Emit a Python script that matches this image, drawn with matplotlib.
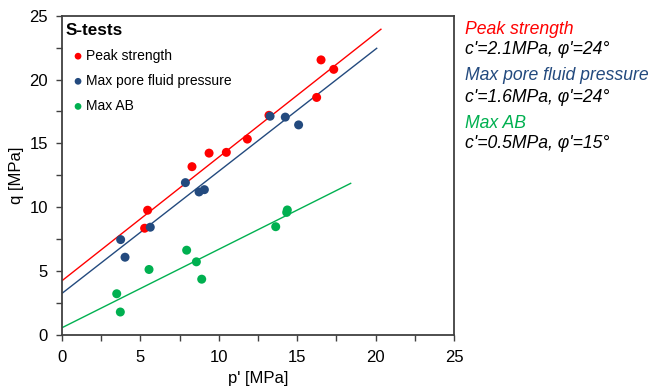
import matplotlib
matplotlib.use("Agg")
import matplotlib.pyplot as plt
import numpy as np
from matplotlib.ticker import MultipleLocator

plt.rcParams['font.family'] = ['Liberation Sans', 'DejaVu Sans']

# Data (p', q) in MPa
peak_p = [5.27, 5.46, 8.29, 9.38, 10.48, 11.82, 13.2, 16.24, 16.52, 17.33]
peak_q = [8.36, 9.77, 13.18, 14.24, 14.3, 15.34, 17.2, 18.6, 21.54, 20.8]

pore_p = [3.74, 4.02, 5.63, 7.87, 8.74, 9.08, 13.27, 14.24, 15.09]
pore_q = [7.47, 6.09, 8.44, 11.93, 11.2, 11.38, 17.13, 17.06, 16.45]

ab_p = [3.49, 3.72, 5.55, 7.95, 8.57, 8.91, 13.63, 14.37, 14.33]
ab_q = [3.23, 1.80, 5.13, 6.64, 5.73, 4.37, 8.48, 9.79, 9.6]

# Fitted failure lines: intercept, slope, p range end
fit_names = ["Peak strength", "Max pore fluid pressure", "Max AB"]
fit_intercept = [4.25, 3.26, 0.57]
fit_slope = [0.968, 0.956, 0.614]
fit_pmax = [20.34, 20.07, 18.41]
fit_params = ["c'=2.1MPa, φ'=24°", "c'=1.6MPa, φ'=24°", "c'=0.5MPa, φ'=15°"]

colors = ['#FF0000', '#234A7E', '#00B050']

fig = plt.figure(figsize=(6.49, 3.89), dpi=100)
ax = fig.add_axes([62/649, 54/389, 392/649, 319.3/389])

series = [(peak_p, peak_q), (pore_p, pore_q), (ab_p, ab_q)]
for i, (px, qy) in enumerate(series):
    ps = np.array([0, fit_pmax[i]])
    ax.plot(ps, fit_intercept[i] + fit_slope[i] * ps, color=colors[i], lw=1.0, zorder=2)
for i, (px, qy) in enumerate(series):
    ax.scatter(px, qy, s=42, color=colors[i], edgecolors='none', zorder=3, label=fit_names[i])

ax.set_xlim(0, 25)
ax.set_ylim(0, 25)
ax.xaxis.set_major_locator(MultipleLocator(5))
ax.xaxis.set_minor_locator(MultipleLocator(2.5))
ax.yaxis.set_major_locator(MultipleLocator(5))
ax.yaxis.set_minor_locator(MultipleLocator(2.5))
for s in ax.spines.values():
    s.set_color('#404040')
    s.set_linewidth(1.3)
ax.tick_params(which='both', direction='out', length=4, width=1.0, color='#404040',
               labelsize=12, labelcolor='#000000')
ax.tick_params(axis='x', which='both', pad=7)
ax.tick_params(axis='y', which='both', pad=6)
ax.set_xlabel("p' [MPa]", fontsize=12, labelpad=4)
ax.set_ylabel("q [MPa]", fontsize=12, labelpad=4)

leg = ax.legend(loc='upper left', title='S-tests', frameon=False, fontsize=10,
                handlelength=1.73, handletextpad=-0.3, borderaxespad=0.0,
                bbox_to_anchor=(0, 1 - 3/319.3),
                markerscale=0.75, labelspacing=0.8, alignment='left', borderpad=0.29)
leg.get_title().set_fontweight('bold')
leg.get_title().set_fontsize(12.3)

# Right side annotations
ys = [29, 49, 76, 97, 123, 143]
for i in range(3):
    fig.text(465/649, 1 - ys[2*i]/389, fit_names[i], color=colors[i], fontsize=12.7,
             style='italic', va='center', ha='left')
    fig.text(465/649, 1 - ys[2*i+1]/389, fit_params[i], color='black', fontsize=12.7,
             style='italic', va='center', ha='left')

fig.savefig('out.png', dpi=100)
